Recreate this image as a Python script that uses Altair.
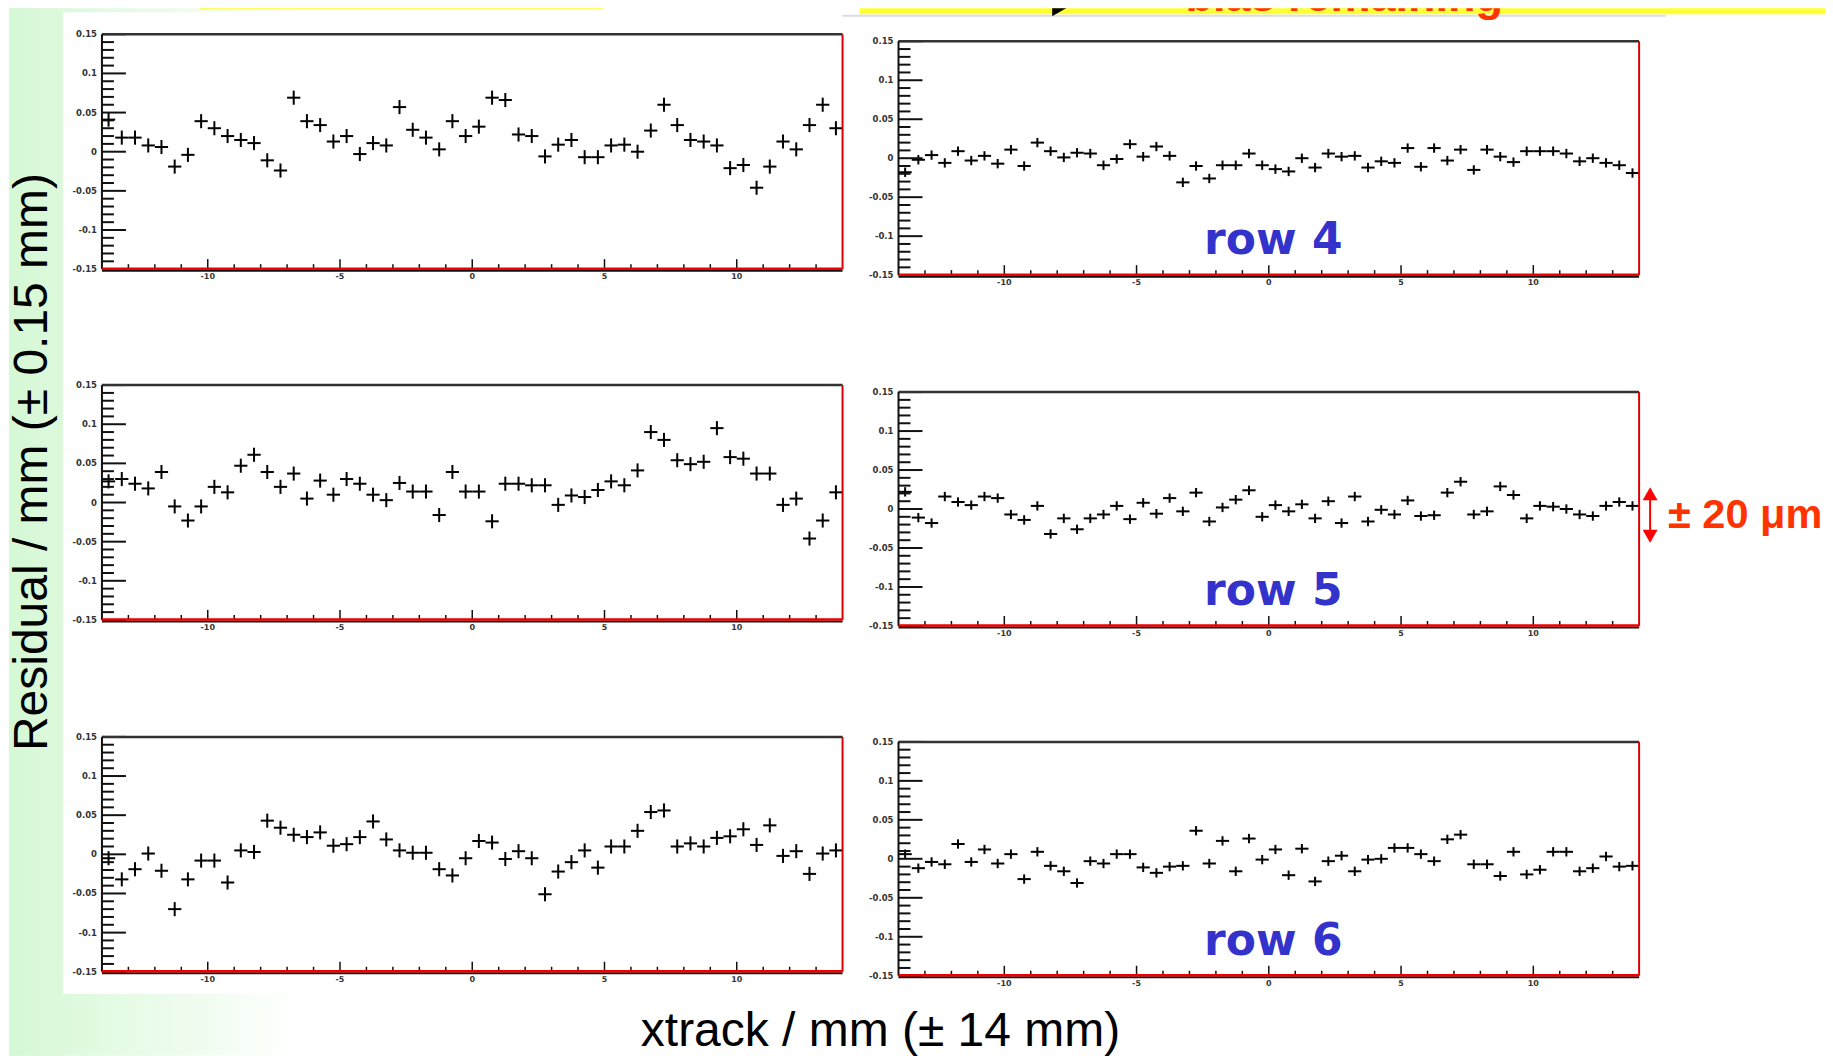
import altair as alt
import pandas as pd

# ---------------- data ----------------
X_CENTERS = [-13.75, -13.25, -12.75, -12.25, -11.75, -11.25, -10.75, -10.25, -9.75, -9.25,
             -8.75, -8.25, -7.75, -7.25, -6.75, -6.25, -5.75, -5.25, -4.75, -4.25,
             -3.75, -3.25, -2.75, -2.25, -1.75, -1.25, -0.75, -0.25, 0.25, 0.75,
             1.25, 1.75, 2.25, 2.75, 3.25, 3.75, 4.25, 4.75, 5.25, 5.75,
             6.25, 6.75, 7.25, 7.75, 8.25, 8.75, 9.25, 9.75, 10.25, 10.75,
             11.25, 11.75, 12.25, 12.75, 13.25, 13.75]

ROW4_BEFORE = [0.041, 0.018, 0.018, 0.008, 0.006, -0.019, -0.004, 0.039, 0.030, 0.020,
               0.015, 0.011, -0.011, -0.024, 0.069, 0.039, 0.034, 0.013, 0.020, -0.003,
               0.011, 0.008, 0.057, 0.028, 0.018, 0.003, 0.039, 0.020, 0.032, 0.069,
               0.066, 0.022, 0.020, -0.006, 0.009, 0.015, -0.007, -0.007, 0.008, 0.009,
               0.000, 0.027, 0.060, 0.034, 0.015, 0.013, 0.008, -0.021, -0.017, -0.046,
               -0.019, 0.013, 0.003, 0.034, 0.060, 0.030]
ROW4_AFTER = [-0.018, -0.002, 0.004, -0.006, 0.009, -0.003, 0.003, -0.007, 0.011, -0.010,
              0.020, 0.009, 0.001, 0.007, 0.006, -0.009, -0.001, 0.018, 0.002, 0.015,
              0.003, -0.031, -0.010, -0.026, -0.009, -0.009, 0.006, -0.009, -0.014, -0.017,
              0.000, -0.012, 0.006, 0.002, 0.003, -0.012, -0.004, -0.006, 0.013, -0.011,
              0.013, -0.003, 0.011, -0.015, 0.011, 0.002, -0.005, 0.009, 0.009, 0.009,
              0.006, -0.004, 0.000, -0.006, -0.009, -0.019]
ROW5_BEFORE = [0.027, 0.030, 0.024, 0.018, 0.039, -0.005, -0.023, -0.005, 0.020, 0.013,
               0.047, 0.061, 0.039, 0.020, 0.037, 0.005, 0.028, 0.010, 0.030, 0.024,
               0.010, 0.003, 0.025, 0.014, 0.014, -0.016, 0.039, 0.014, 0.014, -0.024,
               0.024, 0.024, 0.022, 0.022, -0.003, 0.009, 0.007, 0.016, 0.027, 0.022,
               0.041, 0.090, 0.080, 0.054, 0.049, 0.052, 0.095, 0.058, 0.056, 0.037,
               0.037, -0.003, 0.005, -0.046, -0.023, 0.013]
ROW5_AFTER = [0.022, -0.011, -0.018, 0.016, 0.009, 0.005, 0.016, 0.014, -0.007, -0.014,
              0.004, -0.032, -0.012, -0.026, -0.012, -0.007, 0.004, -0.013, 0.008, -0.006,
              0.014, -0.003, 0.021, -0.016, 0.002, 0.012, 0.024, -0.010, 0.005, -0.003,
              0.006, -0.012, 0.010, -0.018, 0.016, -0.016, -0.001, -0.007, 0.011, -0.009,
              -0.008, 0.021, 0.035, -0.007, -0.003, 0.029, 0.018, -0.012, 0.004, 0.003,
              0.000, -0.007, -0.009, 0.004, 0.009, 0.004]
ROW6_BEFORE = [-0.005, -0.032, -0.019, 0.001, -0.021, -0.070, -0.032, -0.008, -0.008, -0.036,
               0.005, 0.003, 0.043, 0.034, 0.025, 0.022, 0.028, 0.011, 0.013, 0.022,
               0.042, 0.019, 0.005, 0.002, 0.002, -0.019, -0.027, -0.005, 0.017, 0.015,
               -0.006, 0.004, -0.005, -0.051, -0.022, -0.010, 0.005, -0.017, 0.010, 0.010,
               0.030, 0.054, 0.056, 0.010, 0.014, 0.010, 0.021, 0.023, 0.032, 0.012,
               0.037, -0.002, 0.004, -0.025, 0.001, 0.005]
ROW6_AFTER = [0.006, -0.012, -0.004, -0.007, 0.019, -0.004, 0.012, -0.006, 0.006, -0.026,
              0.009, -0.009, -0.016, -0.031, -0.003, -0.006, 0.006, 0.006, -0.011, -0.018,
              -0.010, -0.009, 0.036, -0.006, 0.023, -0.016, 0.026, -0.001, 0.012, -0.021,
              0.013, -0.029, -0.003, 0.004, -0.016, -0.001, 0.000, 0.014, 0.014, 0.006,
              -0.003, 0.025, 0.031, -0.007, -0.007, -0.022, 0.009, -0.020, -0.014, 0.009,
              0.009, -0.016, -0.012, 0.003, -0.010, -0.009]

ROW_LABELS = ["row 4", "row 5", "row 6"]
HALF_BIN = 0.25
ERR_BEFORE = 0.009
ERR_AFTER = 0.006

X_DOMAIN = [-14, 14]
Y_DOMAIN = [-0.15, 0.15]
X_MAJOR = [-10, -5, 0, 5, 10]
X_TICK_LABELS = ["-10", "-5", "0", "5", "10"]
X_MINOR = [-13, -12, -11, -9, -8, -7, -6, -4, -3, -2, -1, 1, 2, 3, 4, 6, 7, 8, 9, 11, 12, 13]
Y_MAJOR = [-0.15, -0.1, -0.05, 0, 0.05, 0.1, 0.15]
Y_TICK_LABELS = ["-0.15", "-0.1", "-0.05", "0", "0.05", "0.1", "0.15"]
Y_MINOR = [-0.14, -0.13, -0.12, -0.11, -0.09, -0.08, -0.07, -0.06, -0.04, -0.03, -0.02, -0.01,
           0.01, 0.02, 0.03, 0.04, 0.06, 0.07, 0.08, 0.09, 0.11, 0.12, 0.13, 0.14]

Y_TITLE = "Residual / mm (\u00b1 0.15 mm)"
X_TITLE = "xtrack / mm (\u00b1 14 mm)"
NOTE = "\u00b1 20 \u03bcm"
BANNER_LEFT = "bias before"
BANNER_RIGHT = "bias remaining"

# ---------------- style / layout (pixels) ----------------
FONT = "Liberation Sans"
TICK_FONT = "DejaVu Sans"
PANEL_W = 741
H_LEFT = 235
H_RIGHT = 234
CELL_LW = 890
CELL_RW = 927
ROW_H = [26, 351, 352, 319]
TOTAL_H = 1048
LEFT_X0 = 93
RIGHT_TOPS = [7, 7, 5]
GREEN = (212, 248, 212)
GRAD_END = 300.0

ONE = pd.DataFrame({"a": [0]})


def green_at(px):
    t = min(max(px / GRAD_END, 0.0), 1.0)
    c = [round(g * (1 - t) + 255 * t) for g in GREEN]
    return "#%02x%02x%02x" % tuple(c)


def grad(c0, c1):
    return {"gradient": "linear", "x1": 0, "x2": 1, "y1": 0, "y2": 0,
            "stops": [{"offset": 0, "color": c0}, {"offset": 1, "color": c1}]}


def rect(x0, x1, y0, y1, fill):
    return alt.Chart(ONE).mark_rect(fill=fill, strokeWidth=0).encode(
        x=alt.value(x0), x2=alt.value(x1), y=alt.value(y0), y2=alt.value(y1))


def hline(x0, x1, y, color, w):
    return alt.Chart(ONE).mark_rule(color=color, strokeWidth=w).encode(
        x=alt.value(x0), x2=alt.value(x1), y=alt.value(y))


def vline(x, y0, y1, color, w):
    return alt.Chart(ONE).mark_rule(color=color, strokeWidth=w).encode(
        x=alt.value(x), y=alt.value(y0), y2=alt.value(y1))


def text(s, x, y, size, color="black", weight="normal", align="center",
         baseline="alphabetic", angle=0, font=FONT, clip=False):
    kw = dict(text=s, font=font, fontSize=size, color=color, fontWeight=weight,
              align=align, baseline=baseline)
    if angle:
        kw["angle"] = angle
    if clip:
        kw["clip"] = True
    return alt.Chart(ONE).mark_text(**kw).encode(x=alt.value(x), y=alt.value(y))


def panel(vals, err, x0, top, h, cw, ch, row_label=None):
    xs = alt.Scale(domain=X_DOMAIN, range=[x0, x0 + PANEL_W], nice=False, zero=False)
    ys = alt.Scale(domain=Y_DOMAIN, range=[top + h, top], nice=False, zero=False)
    df = pd.DataFrame({"x": X_CENTERS, "y": vals})
    base = alt.Chart(df).transform_calculate(
        xlo=f"datum.x - {HALF_BIN}", xhi=f"datum.x + {HALF_BIN}",
        ylo=f"datum.y - {err}", yhi=f"datum.y + {err}")
    hbar = base.mark_rule(color="black", strokeWidth=2).encode(
        x=alt.X("xlo:Q", scale=xs, axis=None), x2="xhi:Q",
        y=alt.Y("y:Q", scale=ys, axis=None))
    vbar = base.mark_rule(color="black", strokeWidth=2).encode(
        x=alt.X("x:Q", scale=xs, axis=None),
        y=alt.Y("ylo:Q", scale=ys, axis=None), y2="yhi:Q")
    ymaj = alt.Chart(pd.DataFrame({"v": Y_MAJOR})).mark_rule(color="#111111", strokeWidth=2).encode(
        y=alt.Y("v:Q", scale=ys, axis=None), x=alt.value(x0), x2=alt.value(x0 + 24))
    ymin = alt.Chart(pd.DataFrame({"v": Y_MINOR})).mark_rule(color="#111111", strokeWidth=2).encode(
        y=alt.Y("v:Q", scale=ys, axis=None), x=alt.value(x0), x2=alt.value(x0 + 12))
    xmaj = alt.Chart(pd.DataFrame({"v": X_MAJOR})).mark_rule(color="#111111", strokeWidth=1.5).encode(
        x=alt.X("v:Q", scale=xs, axis=None), y=alt.value(top + h), y2=alt.value(top + h - 10))
    xmin = alt.Chart(pd.DataFrame({"v": X_MINOR})).mark_rule(color="#111111", strokeWidth=1.5).encode(
        x=alt.X("v:Q", scale=xs, axis=None), y=alt.value(top + h), y2=alt.value(top + h - 5))
    ylab = alt.Chart(pd.DataFrame({"v": Y_MAJOR, "t": Y_TICK_LABELS})).mark_text(
        align="right", baseline="middle", font=TICK_FONT, fontSize=8.5, fontWeight="bold",
        color="#333333").encode(
        y=alt.Y("v:Q", scale=ys, axis=None), x=alt.value(x0 - 5), text="t:N")
    xlab = alt.Chart(pd.DataFrame({"v": X_MAJOR, "t": X_TICK_LABELS})).mark_text(
        align="center", baseline="top", font=TICK_FONT, fontSize=8, fontWeight="bold",
        color="#333333").encode(
        x=alt.X("v:Q", scale=xs, axis=None), y=alt.value(top + h + 4), text="t:N")
    layers = [hbar, vbar, ymaj, ymin, xmaj, xmin, ylab, xlab,
              hline(x0, x0 + PANEL_W, top, "#333333", 2.5),
              vline(x0, top, top + h, "#111111", 2),
              vline(x0 + PANEL_W, top, top + h, "#dd0000", 2),
              hline(x0, x0 + PANEL_W, top + h + 1.5, "#111111", 2),
              hline(x0, x0 + PANEL_W, top + h - 0.5, "#ee0000", 2.5)]
    if row_label:
        layers.append(text(row_label, x0 + 375, top + 213, 44, color="#3333cc",
                           weight="bold", font="DejaVu Sans"))
    return alt.layer(*layers).properties(width=cw, height=ch)


# ---------------- decoration cell (drawn first, overflows under everything) ----------------
deco = alt.layer(
    # slide background: green strip on the left, fading green at the bottom-left
    rect(0, 54, 0, TOTAL_H, grad(green_at(8), green_at(62))),
    rect(0, 292, 0, 4, grad(green_at(8), green_at(300))),
    rect(0, 292, 986, TOTAL_H, grad(green_at(8), green_at(300))),
    # top banners (mostly cut off at the top of the slide)
    rect(191, 594, 0, 1, "#ffff33"),
    rect(851, 1817, 0, 6, "#ffff33"),
    hline(834, 1658, 7.5, "#dddddd", 2),
    text(BANNER_LEFT, 332, -1, 45, color="#ff3300", weight="bold", clip=True),
    # axis titles
    text(Y_TITLE, 24, 454, 48, angle=270, baseline="middle"),
    text(X_TITLE, 872, 1038, 48),
    # +-20 um annotation
    vline(1642, 481, 533, "#ff0000", 2),
    alt.Chart(ONE).mark_point(shape="triangle-up", filled=True, size=225, color="#ff0000",
                              opacity=1, strokeWidth=0).encode(x=alt.value(1642), y=alt.value(485.7)),
    alt.Chart(ONE).mark_point(shape="triangle-down", filled=True, size=225, color="#ff0000",
                              opacity=1, strokeWidth=0).encode(x=alt.value(1642), y=alt.value(528.3)),
    text(NOTE, 1660, 508, 41.5, color="#ff3300", weight="bold", align="left", baseline="middle"),
).properties(width=CELL_LW, height=ROW_H[0])

banner_right = alt.layer(
    text(BANNER_RIGHT, 446, 3, 45, color="#ff3300", weight="bold", clip=True),
    alt.Chart(ONE).mark_point(shape="triangle-right", filled=True, size=676, color="black",
                              opacity=1, strokeWidth=0, clip=True).encode(
        x=alt.value(165), y=alt.value(-5)),
).properties(width=CELL_RW, height=ROW_H[0])

cells = [deco, banner_right]
befores = [ROW4_BEFORE, ROW5_BEFORE, ROW6_BEFORE]
afters = [ROW4_AFTER, ROW5_AFTER, ROW6_AFTER]
for i in range(3):
    cells.append(panel(befores[i], ERR_BEFORE, LEFT_X0, 0, H_LEFT, CELL_LW, ROW_H[i + 1]))
    cells.append(panel(afters[i], ERR_AFTER, 0, RIGHT_TOPS[i], H_RIGHT, CELL_RW, ROW_H[i + 1],
                       ROW_LABELS[i]))

chart = alt.concat(*cells, columns=2, spacing=0, bounds="flush", align="each").properties(
    padding=0
).configure(background="white").configure_view(stroke=None)

chart.save("out.html", embed_options={"renderer": "svg", "actions": False})
